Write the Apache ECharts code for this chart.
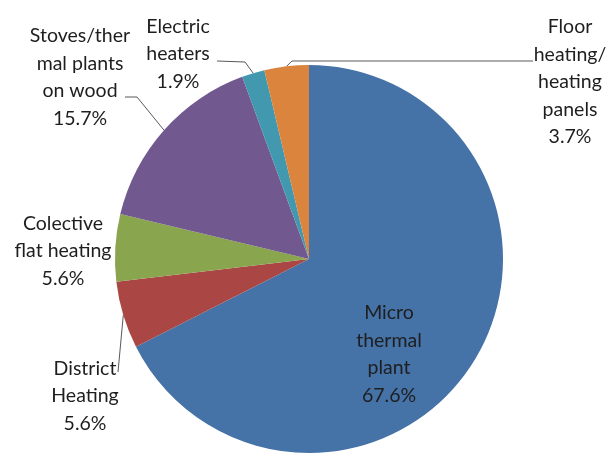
<!DOCTYPE html>
<html>
<head>
<meta charset="utf-8">
<script src="https://cdn.jsdelivr.net/npm/echarts@6/dist/echarts.min.js"></script>
<style>
html,body{margin:0;padding:0;background:#fff;}
#chart{width:611px;height:459px;}
</style>
</head>
<body>
<div id="chart"></div>
<script>
// Data
const categories = [
  "Micro\nthermal\nplant",
  "District\nHeating",
  "Colective\nflat heating",
  "Stoves/ther\nmal plants\non wood",
  "Electric\nheaters",
  "Floor\nheating/\nheating\npanels"
];
const values = [67.6, 5.6, 5.6, 15.7, 1.9, 3.7];
const colors = ["#4572A7", "#AA4643", "#89A54E", "#71588F", "#4198AF", "#DB843D"];

// Label layout (positions of label centers and leader-line bends)
const labelPos = [
  { x: 389, y: 354, line: null },
  { x: 85, y: 396, line: [[118, 372]] },
  { x: 63, y: 251, line: null },
  { x: 80, y: 77, line: [[137, 97], [125, 97]] },
  { x: 178, y: 54, line: [[245, 62], [217, 61]] },
  { x: 570, y: 82, line: [[292, 61], [533, 61]] }
];

const chart = echarts.init(document.getElementById('chart'), null, { renderer: 'canvas' });
const dataItems = categories.map((c, i) => ({
  name: c,
  value: values[i],
  itemStyle: { color: colors[i] },
  labelLine: { show: !!labelPos[i].line }
}));

chart.setOption({
  animation: false,
  backgroundColor: '#ffffff',
  series: [{
    type: 'pie',
    radius: 194,
    center: [309, 259],
    startAngle: 90,
    clockwise: true,
    data: dataItems,
    itemStyle: { borderWidth: 0 },
    label: {
      show: true,
      position: 'outside',
      overflow: 'none',
      formatter: p => p.name + '\n' + p.value.toFixed(1) + '%',
      fontFamily: 'Lato',
      fontSize: 19.5,
      lineHeight: 27.5,
      color: '#1e1e1e',
      align: 'center'
    },
    labelLine: {
      show: true,
      lineStyle: { color: '#595959', width: 1 }
    },
    labelLayout: function (params) {
      const lp = labelPos[params.dataIndex];
      const out = { x: lp.x, y: lp.y, align: 'center', verticalAlign: 'middle', width: 200 };
      if (lp.line && params.labelLinePoints) {
        const start = params.labelLinePoints[0];
        const pts = [start].concat(lp.line);
        while (pts.length < 3) pts.push(pts[pts.length - 1]);
        out.labelLinePoints = pts;
      }
      return out;
    }
  }]
});
</script>
</body>
</html>
